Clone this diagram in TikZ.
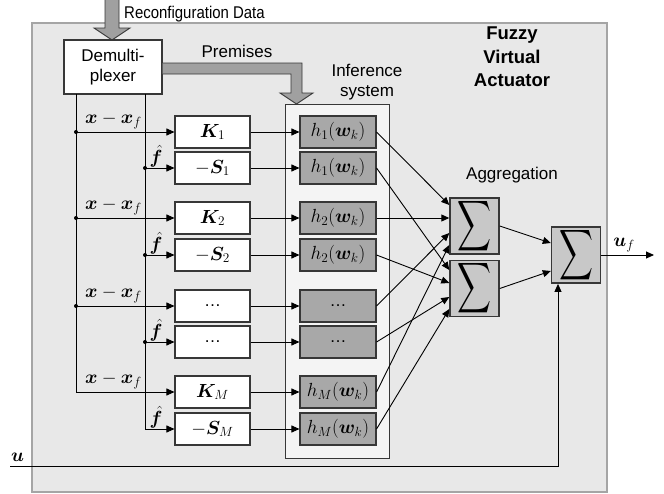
\RequirePackage{fix-cm}
\documentclass[tikz,border=0pt]{standalone}
\usepackage[no-math]{fontspec}
\setmainfont{Liberation Sans}
\usepackage{amsmath,bm,graphicx}
\usetikzlibrary{arrows.meta,calc}

\definecolor{outerfill}{RGB}{232,232,232}
\definecolor{outerline}{RGB}{165,165,165}
\definecolor{inffill}{RGB}{244,244,244}
\definecolor{hfill}{RGB}{168,168,168}
\definecolor{sumfill}{RGB}{200,200,200}
\definecolor{darkline}{RGB}{55,55,55}
\definecolor{bigarrow}{RGB}{160,160,160}

\newcommand\mfs{\fontsize{19}{22}\selectfont}
\newcommand\tfs{\fontsize{17}{20}\selectfont}

\begin{document}
\begin{tikzpicture}[x=1pt,y=-1pt,
  >={Triangle[length=8pt,width=7pt]},
  conn/.style={draw=black,line width=0.9pt},
  bigarr/.style={fill=bigarrow,draw=darkline,line width=0.9pt,line join=miter},
  whitebox/.style={draw=darkline,fill=white,line width=1.1pt,minimum width=75pt,minimum height=32pt,inner sep=0pt,font=\mfs},
  hbox/.style={draw=darkline,fill=hfill,line width=1.1pt,minimum width=76pt,minimum height=32pt,inner sep=0pt,font=\mfs},
  sumbox/.style={draw=darkline,fill=sumfill,line width=1.4pt,minimum width=49pt,minimum height=50pt,inner sep=0pt},
  lbl/.style={inner sep=0pt,font=\tfs,align=center},
  mlbl/.style={inner sep=0pt,font=\mfs},
  dot/.style={circle,fill=black,inner sep=0pt,minimum size=4pt}
]
\useasboundingbox (0,0) rectangle (664,493);

% outer box
\draw[fill=outerfill,draw=outerline,line width=1.5pt] (32,23) rectangle (607,492);

% reconfiguration arrow
\filldraw[bigarr] (105,-3) -- (105,28) -- (94,28) -- (112,40) -- (130,28) -- (119,28) -- (119,-3);
\node[lbl,anchor=west] (rd) at (124,14) {\scalebox{0.88}[1]{Reconfiguration Data}};

% demultiplexer
\node[draw=darkline,fill=white,line width=1.1pt,minimum width=98pt,minimum height=54pt,inner sep=0pt,font=\tfs,align=center] (dm) at (113,67) {Demulti-\\plexer};

% premises arrow
\filldraw[bigarr] (162.6,63) -- (302,63) -- (302,93) -- (313,93) -- (296.5,104) -- (280,93) -- (291,93) -- (291,74) -- (162.6,74);
\node[lbl] (prem) at (237,51) {Premises};

% inference system
\node[draw=darkline,fill=inffill,line width=1pt,minimum width=104pt,minimum height=354pt,inner sep=0pt] (inf) at (337,281) {};
\node[lbl] (inflbl) at (367,82) {Inference\\system};

% titles
\node[inner sep=0pt,font=\fontsize{18.5}{23.5}\selectfont\bfseries,align=center] (title) at (512,57) {Fuzzy\\Virtual\\Actuator};
\node[lbl] (agg) at (512,175) {Aggregation};

% gain boxes
\node[whitebox] (k1) at (212.5,132) {$\bm{K}_1$};
\node[whitebox] (s1) at (212.5,168) {$-\bm{S}_1$};
\node[whitebox] (k2) at (212.5,218) {$\bm{K}_2$};
\node[whitebox] (s2) at (212.5,255) {$-\bm{S}_2$};
\node[whitebox,font=\tfs] (k3) at (212.5,306) {\ldots};
\node[whitebox,font=\tfs] (s3) at (212.5,342) {\ldots};
\node[whitebox] (k4) at (212.5,392) {$\bm{K}_M$};
\node[whitebox] (s4) at (212.5,429) {$-\bm{S}_M$};

% membership boxes
\node[hbox] (hk1) at (338,132) {$h_1(\bm{w}_k)$};
\node[hbox] (hs1) at (338,168) {$h_1(\bm{w}_k)$};
\node[hbox] (hk2) at (338,218) {$h_2(\bm{w}_k)$};
\node[hbox] (hs2) at (338,255) {$h_2(\bm{w}_k)$};
\node[hbox,font=\tfs] (hk3) at (338,306) {\ldots};
\node[hbox,font=\tfs] (hs3) at (338,342) {\ldots};
\node[hbox] (hk4) at (338,392) {$h_M(\bm{w}_k)$};
\node[hbox] (hs4) at (338,429) {$h_M(\bm{w}_k)$};

% sum boxes
\node[sumbox] (sumA) at (474.5,226) {\resizebox{34pt}{37pt}{$\displaystyle\sum$}};
\node[sumbox] (sumB) at (474.5,288.5) {\resizebox{34pt}{37pt}{$\displaystyle\sum$}};
\node[sumbox] (sumC) at (576,255) {\resizebox{34pt}{37pt}{$\displaystyle\sum$}};

% buses
\coordinate (busA) at (76,94);
\coordinate (busB) at (145,94);
\draw[conn,->] (busA) |- (k4.west);
\draw[conn,->] (busB) |- (s4.west);
\node[dot] (ja1) at (76,132) {};
\node[dot] (ja2) at (76,218) {};
\node[dot] (ja3) at (76,306) {};
\node[dot] (jb1) at (145,168) {};
\node[dot] (jb2) at (145,255) {};
\node[dot] (jb3) at (145,342) {};
\draw[conn,->] (ja1.center) -- (k1.west);
\draw[conn,->] (ja2.center) -- (k2.west);
\draw[conn,->] (ja3.center) -- (k3.west);
\draw[conn,->] (jb1.center) -- (s1.west);
\draw[conn,->] (jb2.center) -- (s2.west);
\draw[conn,->] (jb3.center) -- (s3.west);

% input labels
\foreach \yy in {132,218,306,392} {
  \node[mlbl,anchor=south] at (113.5,\yy-3) {$\bm{x}-\bm{x}_f$};
}
\foreach \yy in {168,255,342,429} {
  \node[mlbl,anchor=south] at (156,\yy-1) {$\hat{\bm{f}}$};
}

% gain -> membership
\draw[conn,->] (k1.east) -- (hk1.west);
\draw[conn,->] (s1.east) -- (hs1.west);
\draw[conn,->] (k2.east) -- (hk2.west);
\draw[conn,->] (s2.east) -- (hs2.west);
\draw[conn,->] (k3.east) -- (hk3.west);
\draw[conn,->] (s3.east) -- (hs3.west);
\draw[conn,->] (k4.east) -- (hk4.west);
\draw[conn,->] (s4.east) -- (hs4.west);

% membership -> aggregation
\draw[conn,->] (hk1.east) -- ([yshift=21pt]sumA.west);
\draw[conn,->] (hk2.east) -- ([yshift=8pt]sumA.west);
\draw[conn,->] (hk3.east) -- ([yshift=-7pt]sumA.west);
\draw[conn,->] (hk4.east) -- ([yshift=-19pt]sumA.west);
\draw[conn,->] (hs1.east) -- ([yshift=18.5pt]sumB.west);
\draw[conn,->] (hs2.east) -- ([yshift=5.5pt]sumB.west);
\draw[conn,->] (hs3.east) -- ([yshift=-8.5pt]sumB.west);
\draw[conn,->] (hs4.east) -- ([yshift=-20.5pt]sumB.west);

\draw[conn,->] (sumA.east) -- ([yshift=12pt]sumC.west);
\draw[conn,->] (sumB.east) -- ([yshift=-16pt]sumC.west);

% u input
\coordinate (uin) at (10,466);
\draw[conn,->] (uin) -| ([xshift=-18pt]sumC.south);
\node[mlbl] (ulbl) at (17.5,457) {$\bm{u}$};

% output
\coordinate (uout) at (654,255);
\draw[conn,->] (sumC.east) -- (uout);
\node[mlbl] (uflbl) at (624,245) {$\bm{u}_f$};
\end{tikzpicture}
\end{document}
